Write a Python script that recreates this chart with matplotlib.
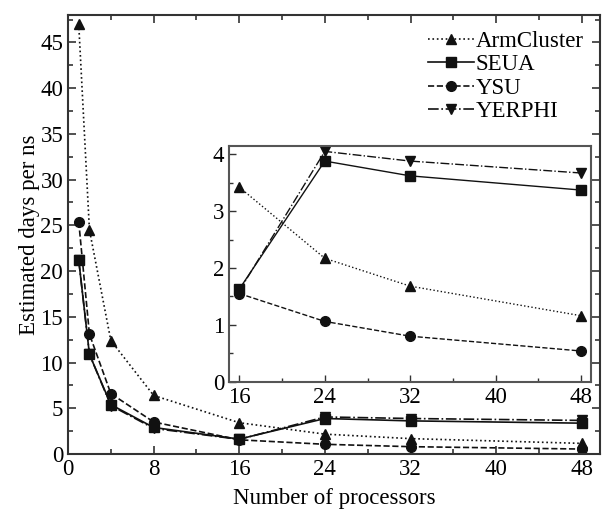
import matplotlib
matplotlib.use("Agg")
import matplotlib.pyplot as plt
from matplotlib.ticker import MultipleLocator

plt.rcParams['font.family'] = ['Liberation Serif', 'DejaVu Serif']
plt.rcParams['mathtext.fontset'] = 'stix'

processors = [1, 2, 4, 8, 16, 24, 32, 48]
armcluster = [47.0, 24.5, 12.4, 6.4, 3.42, 2.17, 1.68, 1.16]
seua = [21.2, 10.9, 5.4, 2.9, 1.63, 3.88, 3.62, 3.37]
ysu = [25.4, 13.1, 6.6, 3.5, 1.55, 1.06, 0.80, 0.54]
yerphi = [21.2, 10.9, 5.3, 2.8, 1.60, 4.05, 3.88, 3.67]

inset_start = 4  # index of 16 processors

series = [
    ("ArmCluster", armcluster, ':', '^'),
    ("SEUA", seua, '-', 's'),
    ("YSU", ysu, '--', 'o'),
    ("YERPHI", yerphi, '-.', 'v'),
]

spine_col = '#333333'
line_col = '#111111'
fs = 16.5

fig = plt.figure(figsize=(6.02, 5.12), dpi=100)
ax = fig.add_axes([0.113, 0.1133, 0.8837, 0.8574])

for name, vals, ls, mk in series:
    ax.plot(processors, vals, linestyle=ls, marker=mk, color=line_col,
            lw=1.2, markersize=7, label=name)

ax.set_xlim(0, 49.7)
ax.set_ylim(0, 48)
ax.xaxis.set_major_locator(MultipleLocator(8))
ax.xaxis.set_minor_locator(MultipleLocator(4))
ax.yaxis.set_major_locator(MultipleLocator(5))
ax.yaxis.set_minor_locator(MultipleLocator(2.5))
ax.tick_params(which='both', direction='in', top=True, right=True,
               labelsize=fs, color=spine_col, width=1.2)
ax.tick_params(which='major', length=6)
ax.tick_params(which='minor', length=3.5)
for s in ax.spines.values():
    s.set_color(spine_col)
    s.set_linewidth(1.5)
ax.set_xlabel("Number of processors", fontsize=fs, labelpad=6)
ax.set_ylabel("Estimated days per ns", fontsize=fs, labelpad=0)

leg = ax.legend(loc='upper right', frameon=False, fontsize=fs, numpoints=1,
                handlelength=2.0, handletextpad=0.1, labelspacing=0.1,
                borderaxespad=0.3, bbox_to_anchor=(1.0, 1.0))

ins = fig.add_axes([0.3804, 0.2545, 0.6008, 0.4609])
for name, vals, ls, mk in series:
    ins.plot(processors[inset_start:], vals[inset_start:], linestyle=ls,
             marker=mk, color=line_col, lw=1.0, markersize=7)
ins.set_xlim(15.03, 48.9)
ins.set_ylim(0, 4.15)
ins.xaxis.set_major_locator(MultipleLocator(8))
ins.xaxis.set_minor_locator(MultipleLocator(4))
ins.yaxis.set_major_locator(MultipleLocator(1))
ins.yaxis.set_minor_locator(MultipleLocator(0.5))
ins.tick_params(which='both', direction='in', labelsize=fs,
                color=spine_col, width=1.0)
ins.tick_params(which='major', length=5)
ins.tick_params(which='minor', length=3)
for s in ins.spines.values():
    s.set_color('#555555')
    s.set_linewidth(1.5)

fig.savefig("out.png", dpi=100)
